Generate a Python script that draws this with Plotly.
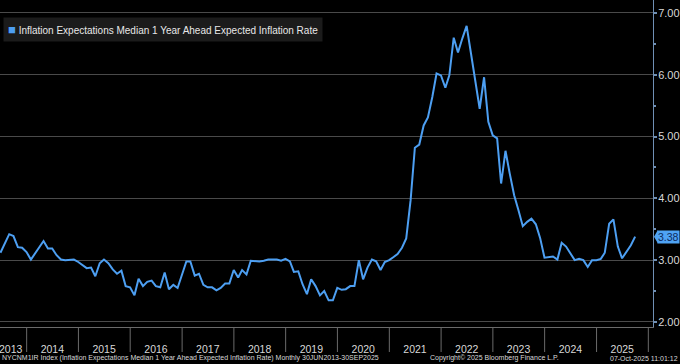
import pandas as pd
import plotly.graph_objects as go

# Monthly observations, month-end dates, 30JUN2013 - 30SEP2025
start_month = "2013-06-30"
values = [
    # 2013 Jun-Dec
    3.12, 3.28, 3.42, 3.39, 3.21, 3.20, 3.13,
    # 2014
    3.01, 3.10, 3.22, 3.31, 3.19, 3.19, 3.08, 3.01, 3.00, 3.01, 3.01, 2.97,
    # 2015
    2.92, 2.87, 2.88, 2.74, 2.95, 3.01, 2.95, 2.85, 2.78, 2.83, 2.58, 2.56,
    # 2016
    2.43, 2.70, 2.58, 2.65, 2.67, 2.58, 2.56, 2.80, 2.53, 2.60, 2.55, 2.77,
    # 2017
    2.98, 2.98, 2.75, 2.78, 2.60, 2.56, 2.56, 2.51, 2.55, 2.62, 2.62, 2.84,
    # 2018
    2.72, 2.84, 2.77, 2.99, 2.98, 2.98, 2.99, 3.01, 3.01, 3.01, 2.99, 3.02,
    # 2019
    2.98, 2.81, 2.82, 2.61, 2.45, 2.69, 2.58, 2.43, 2.50, 2.35, 2.35, 2.55,
    # 2020
    2.52, 2.53, 2.58, 2.58, 3.00, 2.69, 2.88, 3.01, 2.98, 2.84, 2.97, 3.00,
    # 2021
    3.05, 3.10, 3.20, 3.35, 3.97, 4.82, 4.87, 5.18, 5.31, 5.64, 6.02, 5.99,
    # 2022
    5.79, 5.99, 6.60, 6.36, 6.59, 6.79, 6.34, 5.91, 5.45, 5.96, 5.24, 5.02,
    # 2023
    4.97, 4.24, 4.77, 4.40, 4.05, 3.81, 3.55, 3.62, 3.67, 3.58, 3.36, 3.04,
    # 2024
    3.05, 3.06, 3.01, 3.28, 3.22, 3.10, 3.00, 3.02, 3.00, 2.89, 3.00, 3.00,
    # 2025 Jan-Sep
    3.02, 3.12, 3.59, 3.66, 3.22, 3.03, 3.13, 3.24, 3.38,
]
dates = pd.date_range(start_month, periods=len(values), freq="ME")

series_name = "Inflation Expectations Median 1 Year Ahead Expected Inflation Rate"
year_labels = [str(y) for y in range(2013, 2026)]
year_label_dates = ["2013-09-10"] + [f"{y}-07-01" for y in range(2014, 2026)]
year_bounds = [f"{y}-01-01" for y in range(2014, 2027)]
y_ticks = [2, 3, 4, 5, 6, 7]
last_value = values[-1]

footer_left = ("NYCNM1IR Index (Inflation Expectations Median 1 Year Ahead Expected "
               "Inflation Rate) Monthly 30JUN2013-30SEP2025")
footer_mid = "Copyright\u00a9 2025 Bloomberg Finance L.P."
footer_right = "07-Oct-2025 11:01:12"

LINE = "#4d9ff2"
GRID = "#4a4a4a"
TXT = "#d8d8d8"
AXIS_BLUE = "#6f8fb4"
TAG = "#4fa3f4"
FONT = "Liberation Sans Narrow, Arial Narrow, Liberation Sans, Arial, sans-serif"

fig = go.Figure()
fig.add_trace(go.Scatter(x=dates, y=values, mode="lines",
                         line=dict(color=LINE, width=2), showlegend=False,
                         name=series_name))

fig.update_layout(
    width=680, height=364,
    margin=dict(l=0, r=27, t=0, b=37),
    paper_bgcolor="black", plot_bgcolor="black",
    font=dict(family=FONT, color=TXT, size=12),
    showlegend=False,
)

fig.update_xaxes(
    type="date",
    range=["2013-06-27", "2026-02-03"],
    showgrid=False, zeroline=False,
    showline=True, linecolor="#6a6a6a", linewidth=1,
    tickmode="array", tickvals=year_label_dates, ticktext=year_labels,
    ticks="", ticklabelstandoff=12, ticklabeloverflow="allow",
    tickfont=dict(size=10.5, color=TXT),
)

fig.update_yaxes(
    side="right",
    range=[1.918, 7.21],
    tickmode="array", tickvals=y_ticks,
    tickformat=".2f",
    showgrid=True, gridcolor=GRID, gridwidth=1,
    zeroline=False,
    showline=True, linecolor=AXIS_BLUE, linewidth=1,
    ticks="outside", ticklen=3, tickwidth=2, tickcolor=AXIS_BLUE,
    ticklabelstandoff=-1, ticklabeloverflow="allow",
    tickfont=dict(size=11, color=TXT),
    minor=dict(dtick=0.5, tick0=2, ticks="outside", ticklen=2,
               tickcolor=AXIS_BLUE, showgrid=False),
)

# year separators below the axis line
for b in year_bounds:
    fig.add_shape(type="line", xref="x", yref="paper", x0=b, x1=b,
                  y0=0, y1=-25 / 327, line=dict(color="#6a6a6a", width=1))

# legend box (square key + series name)
fig.add_annotation(
    xref="paper", yref="paper", x=3 / 653, y=(327 - 17) / 327,
    xanchor="left", yanchor="top", showarrow=False, align="left",
    text=(f"<span style='color:{LINE};font-size:13px'>\u25A0</span>"
          f"<span style='font-size:10px'> {series_name}</span>"),
    bgcolor="#1b1b1b", borderpad=4, font=dict(color="#e8e8e8", size=10),
)

# last value tag (pointer + box)
fig.add_shape(type="path", xref="paper", yref="y", layer="above",
              path=(f"M {654/653} {last_value} L {658/653} {last_value + 0.11} "
                    f"L {658/653} {last_value - 0.11} Z"),
              fillcolor=TAG, line=dict(width=0))
fig.add_annotation(xref="paper", x=1.0, xanchor="left", yref="y", y=last_value,
                   text=f"{last_value:.2f}", showarrow=False,
                   bgcolor=TAG, borderpad=0, xshift=4,
                   font=dict(size=10.5, color="#0c2a5e", family=FONT))

# footer
fy = (327 - 358) / 327
fig.add_annotation(xref="paper", yref="paper", x=0.0, y=fy, xanchor="left",
                   yanchor="middle", text=footer_left, showarrow=False,
                   font=dict(size=7, color=TXT))
fig.add_annotation(xref="paper", yref="paper", x=428 / 653, y=fy, xanchor="left",
                   yanchor="middle", text=footer_mid, showarrow=False,
                   font=dict(size=7, color=TXT))
fig.add_annotation(xref="paper", x=1.0, xshift=27, yref="paper", y=fy,
                   xanchor="right", yanchor="middle", text=footer_right,
                   showarrow=False, font=dict(size=7, color=TXT))

fig.write_html("out.html",
               config={"displayModeBar": False},
               post_script="document.body.style.margin='0px';"
                           "document.body.style.overflow='hidden';")
